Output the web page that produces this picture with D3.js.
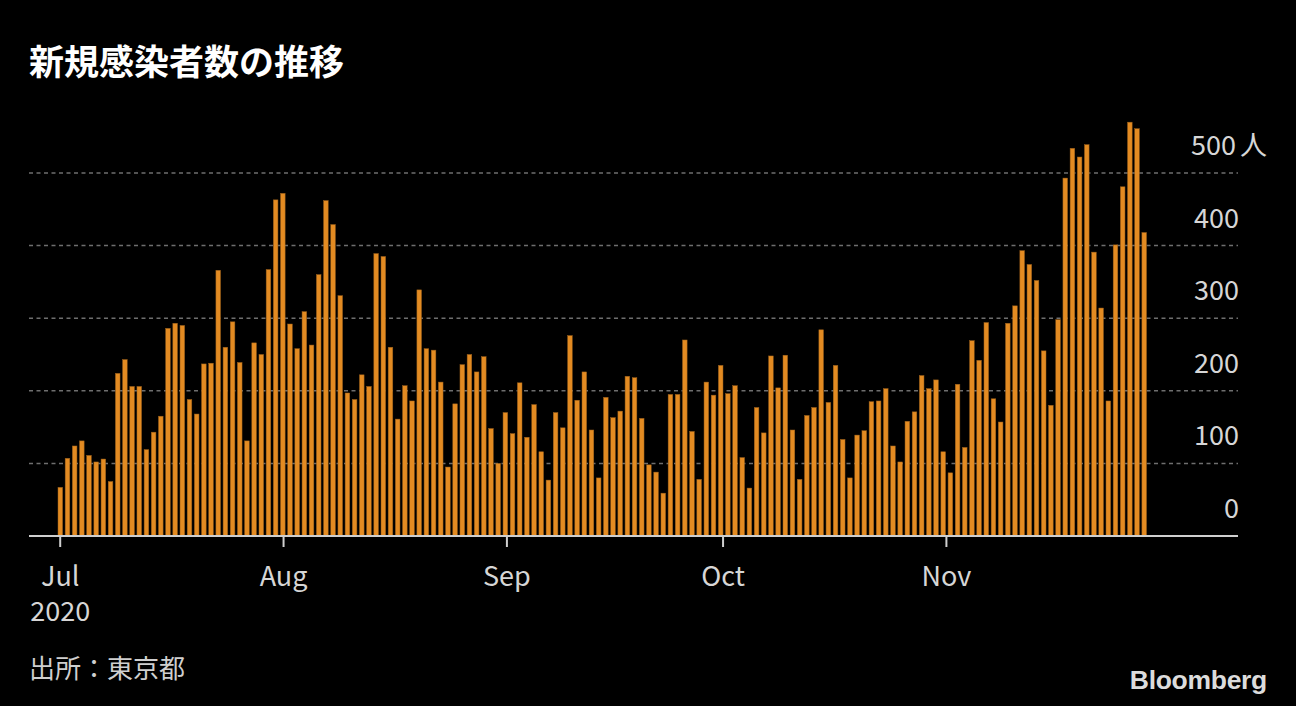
<!DOCTYPE html>
<html>

<head>
    <meta charset="utf-8" />
    <script src="https://d3js.org/d3.v7.min.js"></script>
    <style>
        body {
            margin: 0;
            background: #000;
        }

        text {
            font-family: "Noto Sans CJK JP", "Noto Sans", sans-serif;
        }
    </style>
</head>

<body>
    <script>
        // daily new cases in Tokyo, Jul 1 - Nov 29 2020
        const julyCases = [67, 107, 124, 131, 111, 102, 106, 75, 224, 243, 206, 206, 119, 143, 165, 286,
            293, 290, 188, 168, 237, 238, 366, 260, 295, 239, 131, 266, 250, 367, 463];
        const augustCases = [472, 292, 258, 309, 263, 360, 462, 429, 331, 197, 188, 222, 206, 389, 385, 260,
            161, 207, 186, 339, 258, 256, 212, 95, 182, 236, 250, 226, 247, 148, 100];
        const septemberCases = [170, 141, 211, 136, 181, 116, 77, 170, 149, 276, 187, 226, 146, 80, 191, 163,
            172, 220, 218, 162, 98, 88, 59, 195, 195, 270, 144, 78, 212, 194];
        const octoberCases = [235, 196, 207, 108, 66, 177, 142, 248, 204, 249, 146, 78, 166, 177, 284, 184,
            235, 133, 80, 139, 145, 185, 186, 203, 124, 102, 158, 171, 221, 203, 215];
        const novemberCases = [116, 87, 209, 122, 269, 242, 294, 189, 157, 293, 317, 393, 374, 352, 255, 180,
            298, 493, 534, 522, 539, 391, 314, 186, 401, 481, 570, 561, 418];

        const monthLabels = ['Jul', 'Aug', 'Sep', 'Oct', 'Nov'];
        const yTicks = [0, 100, 200, 300, 400, 500];
        const titleText = '新規感染者数の推移';
        const sourceText = '出所：東京都';

        const startDate = new Date(2020, 6, 1);
        const cases = [].concat(julyCases, augustCases, septemberCases, octoberCases, novemberCases);
        const data = cases.map((v, i) => ({
            date: d3.timeDay.offset(startDate, i),
            value: v
        }));

        const W = 1296, H = 706;
        const svg = d3.select('body').append('svg')
            .attr('width', W)
            .attr('height', H)
            .style('background', '#000');

        // scales
        const xTime = d3.scaleTime()
            .domain([startDate, new Date(2020, 11, 1)])
            .range([59.7, 59.7 + 153 * 7.205]);
        const xBand = d3.scaleBand()
            .domain(data.map(d => +d.date))
            .range([58, 1146.5])
            .paddingInner(0.36)
            .paddingOuter(0);
        const y = d3.scaleLinear().domain([0, 500]).range([536, 173]);

        // gridlines
        svg.append('g')
            .selectAll('line')
            .data(yTicks.filter(t => t > 0))
            .join('line')
            .attr('x1', 29)
            .attr('x2', 1238)
            .attr('y1', d => y(d))
            .attr('y2', d => y(d))
            .attr('stroke', '#6e6e6e')
            .attr('stroke-width', 1.5)
            .attr('stroke-dasharray', '4,3.5');

        // y labels
        svg.append('g')
            .selectAll('text')
            .data(yTicks)
            .join('text')
            .attr('x', d => d === 500 ? 1236 : 1239)
            .attr('y', d => y(d) - 18)
            .attr('text-anchor', 'end')
            .attr('fill', '#d6d6d6')
            .style('font-size', '27px')
            .text(d => d);
        svg.append('text')
            .attr('x', 1240)
            .attr('y', y(500) - 18)
            .attr('fill', '#d6d6d6')
            .style('font-size', '27px')
            .text('人');

        // bars
        svg.append('g')
            .selectAll('rect')
            .data(data)
            .join('rect')
            .attr('x', d => xBand(+d.date))
            .attr('y', d => y(d.value))
            .attr('width', xBand.bandwidth())
            .attr('height', d => y(0) - y(d.value))
            .attr('fill', '#e38b22')
            .attr('stroke', '#9a5f1a')
            .attr('stroke-width', 0.5);

        // x axis
        const xAxis = d3.axisBottom(xTime)
            .tickValues(monthLabels.map((m, i) => new Date(2020, 6 + i, 1)))
            .tickFormat(d3.timeFormat('%b'))
            .tickSize(11)
            .tickPadding(20);
        const gx = svg.append('g')
            .attr('transform', 'translate(0,536)')
            .call(xAxis);
        gx.select('.domain').remove();
        gx.selectAll('.tick line').attr('stroke', '#cfcfcf').attr('stroke-width', 2);
        gx.selectAll('.tick text')
            .attr('fill', '#d6d6d6')
            .style('font-size', '27px')
            .style('font-family', '"Noto Sans CJK JP", sans-serif');
        // year under the first month label
        gx.select('.tick text')
            .append('tspan')
            .attr('x', 0)
            .attr('dy', '1.3em')
            .text('2020');

        svg.append('line')
            .attr('x1', 29)
            .attr('x2', 1238)
            .attr('y1', 536)
            .attr('y2', 536)
            .attr('stroke', '#cfcfcf')
            .attr('stroke-width', 2);

        // title
        svg.append('text')
            .attr('x', 29)
            .attr('y', 75)
            .attr('fill', '#fff')
            .style('font-size', '35px')
            .style('font-weight', 'bold')
            .text(titleText);

        // source
        svg.append('text')
            .attr('x', 29)
            .attr('y', 678)
            .attr('fill', '#cfcfcf')
            .style('font-size', '26px')
            .text(sourceText);

        // logo
        svg.append('text')
            .attr('x', 1267)
            .attr('y', 689)
            .attr('text-anchor', 'end')
            .attr('fill', '#dcdcdc')
            .style('font-family', '"Liberation Sans", Arial, sans-serif')
            .style('font-weight', 'bold')
            .style('font-size', '26.5px')
            .style('letter-spacing', '-0.3px')
            .text('Bloomberg');
    </script>
</body>

</html>
